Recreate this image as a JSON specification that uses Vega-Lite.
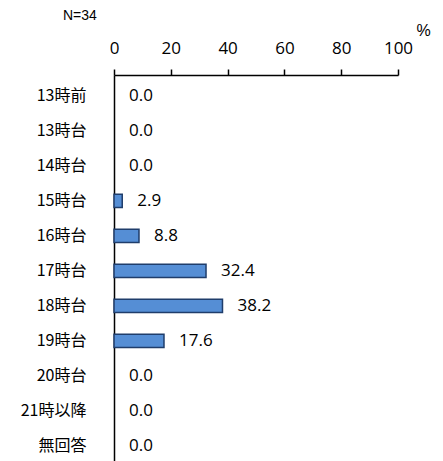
{
  "$schema": "https://vega.github.io/schema/vega-lite/v6.json",
  "width": 284,
  "height": 386,
  "autosize": {"type": "none"},
  "padding": {"left": 114, "top": 75, "right": 45, "bottom": 0},
  "background": "white",
  "config": {"view": {"stroke": null}},
  "title": {"text": "N=34", "anchor": "start", "frame": "group", "orient": "top", "font": "Liberation Sans", "fontSize": 14, "fontWeight": "normal", "color": "black", "dx": -51, "dy": 8, "offset": 0, "baseline": "middle"},
  "data": {"values": [
    {"cat": "13時前", "v": 0.0},
    {"cat": "13時台", "v": 0.0},
    {"cat": "14時台", "v": 0.0},
    {"cat": "15時台", "v": 2.9},
    {"cat": "16時台", "v": 8.8},
    {"cat": "17時台", "v": 32.4},
    {"cat": "18時台", "v": 38.2},
    {"cat": "19時台", "v": 17.6},
    {"cat": "20時台", "v": 0.0},
    {"cat": "21時以降", "v": 0.0},
    {"cat": "無回答", "v": 0.0}
  ]},
  "encoding": {
    "y": {"field": "cat", "type": "nominal",
      "sort": ["13時前", "13時台", "14時台", "15時台", "16時台", "17時台", "18時台", "19時台", "20時台", "21時以降", "無回答"],
      "scale": {"paddingInner": 0.62, "paddingOuter": 0.325, "align": 0.63},
      "axis": {"title": null, "ticks": false, "domainColor": "black", "domainWidth": 1.5, "labelFont": "Noto Sans CJK JP", "labelFontSize": 16, "labelColor": "black", "labelPadding": 28}},
    "x": {"field": "v", "type": "quantitative",
      "scale": {"domain": [0, 100], "nice": false},
      "axis": {"orient": "top", "values": [0, 20, 40, 60, 80, 100], "grid": false, "title": "%", "titleX": 309, "titleY": -45, "titleFont": "Liberation Sans", "titleFontSize": 16, "titleFontWeight": "normal", "titleColor": "black", "titleAlign": "center", "titleBaseline": "middle", "domainColor": "black", "domainWidth": 1.5, "tickColor": "black", "tickWidth": 1.5, "tickSize": 6, "labelFont": "Open Sans", "labelFontSize": 17, "labelColor": "black", "labelPadding": 12, "labelFlush": false}}
  },
  "layer": [
    {"transform": [{"filter": "datum.v > 0"}],
     "mark": {"type": "bar", "fill": "#558ED5", "stroke": "#1F3D6B", "strokeWidth": 1.5}},
    {"mark": {"type": "text", "align": "left", "baseline": "middle", "dx": 15, "font": "Open Sans", "fontSize": 17, "color": "black"},
     "encoding": {"text": {"field": "v", "type": "quantitative", "format": ".1f"}}}
  ]
}
